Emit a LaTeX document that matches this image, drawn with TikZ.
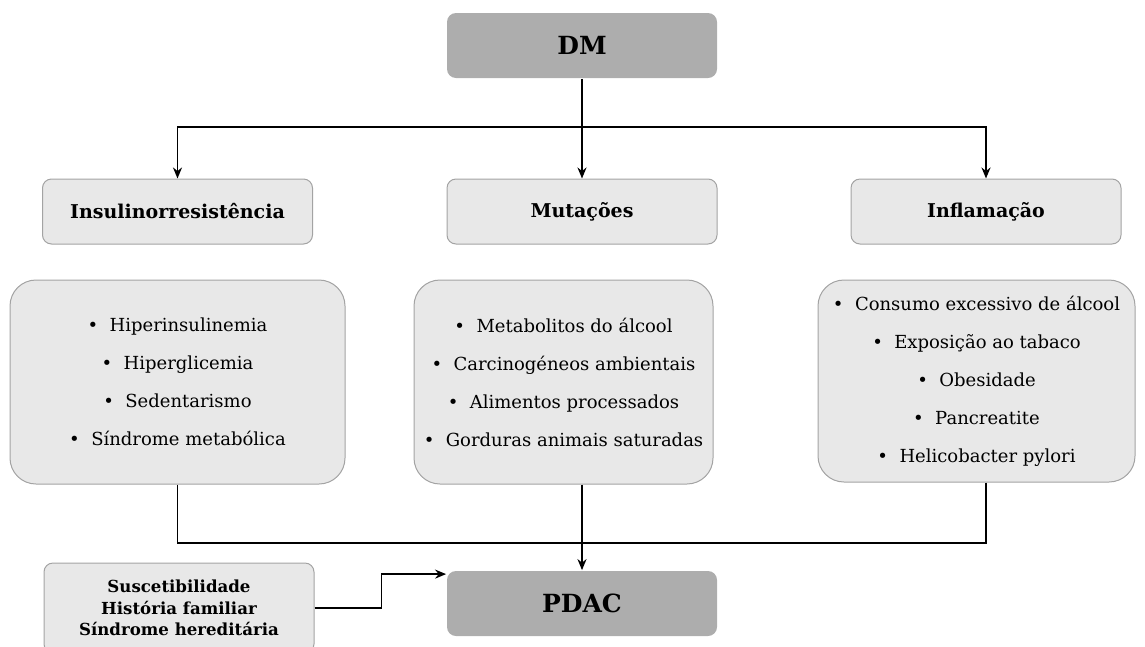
\documentclass[tikz,border=0pt]{standalone}
\usepackage{fontspec}
\setmainfont{DejaVu Serif}
\usetikzlibrary{arrows.meta}

\definecolor{boxdark}{HTML}{ADADAD}
\definecolor{boxlight}{HTML}{E8E8E8}
\definecolor{boxline}{HTML}{A3A3A3}

\begin{document}
\begin{tikzpicture}[x=1pt, y=-1pt,
    main/.style={rectangle, rounded corners=9pt, fill=boxdark, draw=none, minimum width=270pt, minimum height=65pt, font=\fontsize{25}{30}\selectfont\bfseries},
    head/.style={rectangle, rounded corners=9pt, fill=boxlight, draw=boxline, line width=1pt, minimum width=270pt, minimum height=65pt, font=\fontsize{19}{24}\selectfont\bfseries},
    list/.style={rectangle, rounded corners=26pt, fill=boxlight, draw=boxline, line width=1pt, minimum height=204pt, align=center, font=\fontsize{18}{38}\selectfont},
    >={Stealth[length=11pt,width=9pt]}, line width=1.8pt]
            \useasboundingbox (0,0) rectangle (1145,646);
            % Nodes
            \node[main] (DM) at (582,45.5) {DM};
            \node[head] (ins) at (177.5,211.5) {Insulinorresist\^encia};
            \node[head] (mut) at (582,211.5) {Muta\c c\~oes};
            \node[head] (inf) at (986,211.5) {Inflama\c c\~ao};
            \node[list, minimum width=335pt] (Lins) at (177.5,382) {\textbullet\ \ Hiperinsulinemia\\\textbullet\ \ Hiperglicemia\\\textbullet\ \ Sedentarismo\\\textbullet\ \ S\'indrome metab\'olica};
            \node[list, minimum width=299pt] (Lmut) at (563.5,382) {\textbullet\ \ Metabolitos do \'alcool\\\textbullet\ \ Carcinog\'eneos ambientais\\\textbullet\ \ Alimentos processados\\\textbullet\ \ Gorduras animais saturadas};
            \node[list, minimum width=317pt, minimum height=202pt] (Linf) at (976.5,381) {\textbullet\ \ Consumo excessivo de \'alcool\\\textbullet\ \ Exposi\c c\~ao ao tabaco\\\textbullet\ \ Obesidade\\\textbullet\ \ Pancreatite\\\textbullet\ \ Helicobacter pylori};
            \node[main] (PDAC) at (582,603.5) {PDAC};
            \node[head, minimum width=270pt, minimum height=90pt, align=center, font=\fontsize{16.6}{21.5}\selectfont\bfseries] (sus) at (179,608) {Suscetibilidade\\Hist\'oria familiar\\S\'indrome heredit\'aria};
            % Arestas
            \coordinate (top) at (582,127);
            \coordinate (bot) at (582,543);
            \draw (DM.south) -- (top);
            \draw[->] (top) -| (ins.north);
            \draw[->] (top) -- (mut.north);
            \draw[->] (top) -| (inf.north);
            \draw (Lins.south) |- (bot);
            \draw (Linf.south -| inf) |- (bot);
            \draw[->] (Lmut.south -| DM) -- (PDAC.north);
            \draw[->] (sus.east) -- ++(67,0) |- ([yshift=-4pt]PDAC.north west);
        \end{tikzpicture}
\end{document}
